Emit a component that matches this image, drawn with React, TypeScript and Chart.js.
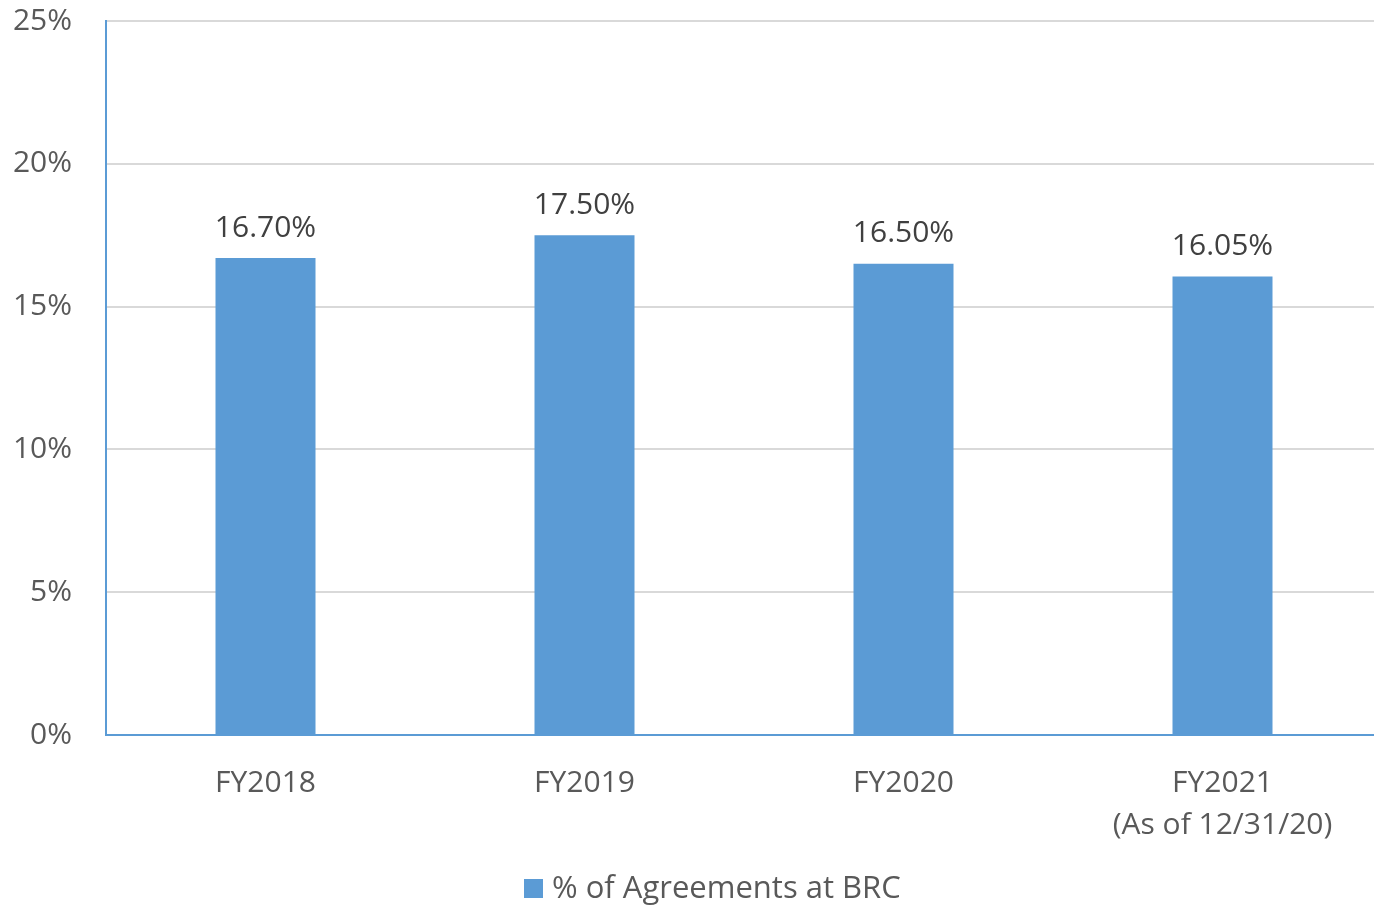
import React, { useEffect, useRef } from "react";
import { Chart, registerables } from "chart.js";

Chart.register(...registerables);

const categories: (string | string[])[] = ["FY2018", "FY2019", "FY2020", ["FY2021", "(As of 12/31/20)"]];
const values: number[] = [16.7, 17.5, 16.5, 16.05];
const valueLabels: string[] = ["16.70%", "17.50%", "16.50%", "16.05%"];
const seriesName = "% of Agreements at BRC";

const FONT = "'Open Sans', 'Noto Sans', sans-serif";
const BAR_COLOR = "#5B9BD5";
const CANVAS_W = 1382;
const CANVAS_H = 907;

const dataLabelPlugin = {
  id: "dataLabels",
  afterDatasetsDraw(chart: any) {
    const ctx = chart.ctx;
    const meta = chart.getDatasetMeta(0);
    ctx.save();
    ctx.font = `30px ${FONT}`;
    ctx.fillStyle = "#404040";
    ctx.textAlign = "center";
    ctx.textBaseline = "middle";
    meta.data.forEach((bar: any, i: number) => {
      ctx.fillText(valueLabels[i], bar.x, bar.y - 30);
    });
    ctx.restore();
  },
};

const customLegendPlugin = {
  id: "customLegend",
  afterDraw(chart: any) {
    const ctx = chart.ctx;
    const ds = chart.data.datasets[0];
    const left = 524;
    const cy = 889;
    ctx.save();
    ctx.fillStyle = ds.backgroundColor;
    ctx.fillRect(left, cy - 10, 19, 19);
    ctx.font = `31px ${FONT}`;
    ctx.fillStyle = "#595959";
    ctx.textAlign = "left";
    ctx.textBaseline = "middle";
    ctx.fillText(ds.label, left + 28, cy);
    ctx.restore();
  },
};

export default function App() {
  const ref = useRef<HTMLCanvasElement | null>(null);
  useEffect(() => {
    if (!ref.current) return;
    const chart = new Chart(ref.current, {
      type: "bar",
      data: {
        labels: categories as any,
        datasets: [
          {
            label: seriesName,
            data: values,
            backgroundColor: BAR_COLOR,
            borderWidth: 0,
            categoryPercentage: 1,
            barPercentage: 0.3135,
          },
        ],
      },
      options: {
        animation: false,
        responsive: false,
        maintainAspectRatio: false,
        layout: { padding: { top: 21, right: 0, left: 0, bottom: 0 } },
        plugins: {
          legend: { display: false },
          tooltip: { enabled: false },
        },
        scales: {
          x: {
            grid: { display: false, drawTicks: false },
            border: { display: true, color: BAR_COLOR, width: 2 },
            ticks: {
              font: { family: FONT, size: 30, lineHeight: 1.4 },
              color: "#595959",
              padding: 27,
              maxRotation: 0,
              autoSkip: false,
            },
            afterFit: (s: any) => {
              s.height = CANVAS_H - 735;
              s.paddingLeft = 0;
              s.paddingRight = 0;
            },
          },
          y: {
            min: 0,
            max: 25,
            grid: { color: "#D9D9D9", lineWidth: 2, drawTicks: false },
            border: { display: true, color: BAR_COLOR, width: 2 },
            ticks: {
              stepSize: 5,
              font: { family: FONT, size: 30 },
              color: "#595959",
              padding: 34,
              callback: (v: any) => `${v}%`,
            },
            afterFit: (s: any) => {
              s.width = 106;
              s.paddingTop = 0;
              s.paddingBottom = 0;
            },
          },
        },
      },
      plugins: [dataLabelPlugin, customLegendPlugin],
    });
    return () => chart.destroy();
  }, []);
  return (
    <div
      style={{ position: "fixed", left: 0, top: 0, width: 1374, height: 907, overflow: "hidden", background: "#fff" }}
    >
      <canvas
        ref={ref}
        width={CANVAS_W}
        height={CANVAS_H}
        style={{ display: "block", width: CANVAS_W, height: CANVAS_H }}
      />
    </div>
  );
}
